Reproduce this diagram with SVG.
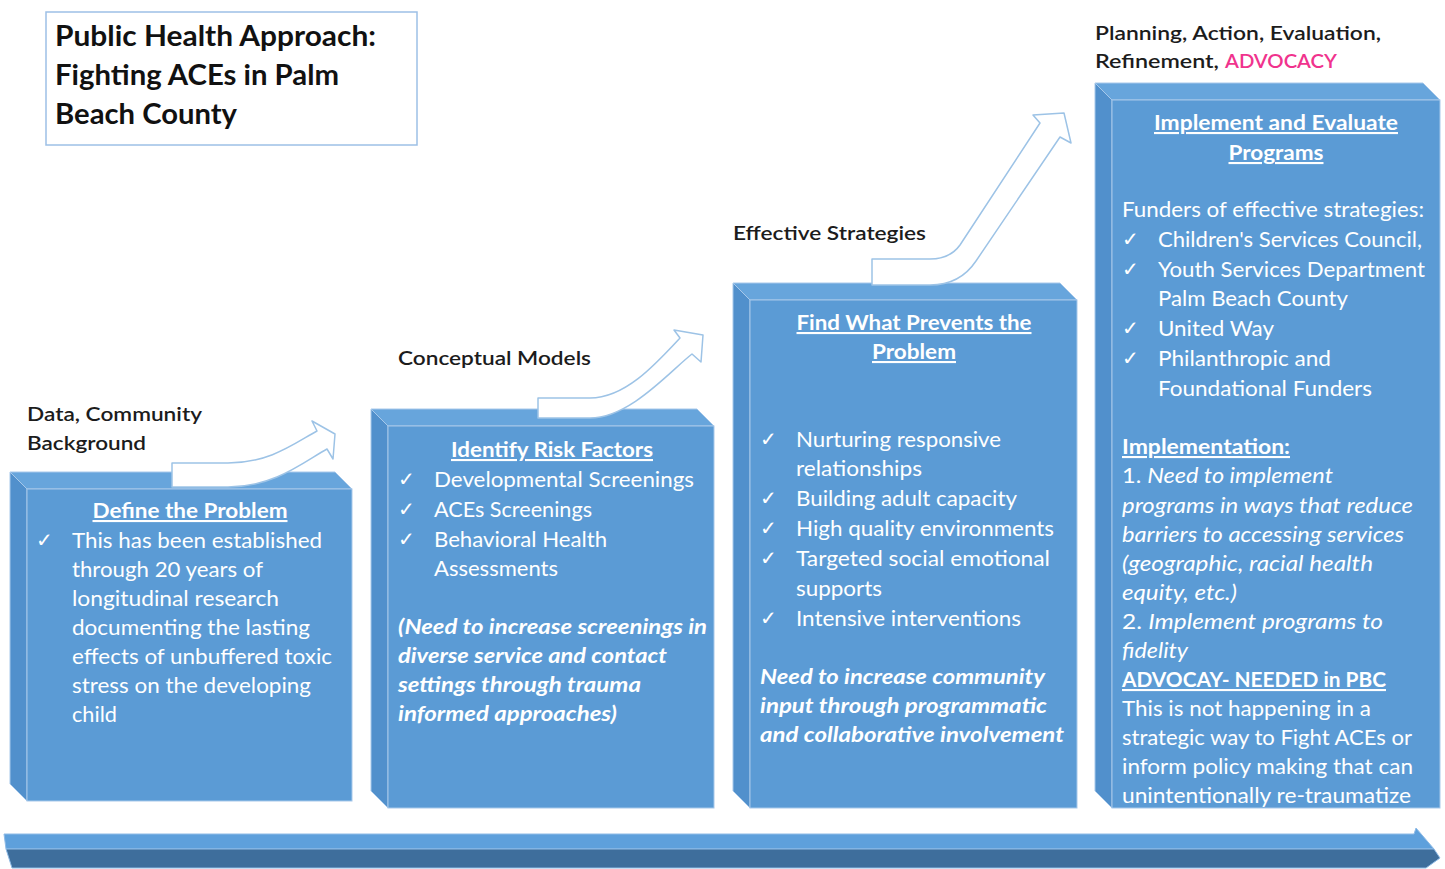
<svg xmlns="http://www.w3.org/2000/svg" width="1445" height="869" viewBox="0 0 1445 869">
<style>
.t{font-family:Lato,"Liberation Sans",sans-serif;font-size:21px;fill:#ffffff}
.hd{font-weight:bold;text-decoration:underline}
.it{font-style:italic}
.bi{font-style:italic;font-weight:bold}
.ck{font-family:"DejaVu Sans",sans-serif;font-size:20px;fill:#ffffff;font-weight:bold}
.lb{font-family:Lato,"Liberation Sans",sans-serif;font-size:20px;fill:#1c1c1c;font-weight:600}
.ti{font-family:Lato,"Liberation Sans",sans-serif;font-size:28px;fill:#111;font-weight:bold}
.front{fill:#5b9bd5;stroke:#a7c8ea;stroke-width:1}
.top{fill:#67a5dc;stroke:#a7c8ea;stroke-width:1}
.side{fill:#5190cc;stroke:#a7c8ea;stroke-width:1}
.arr{fill:#ffffff;stroke:#9dc3e6;stroke-width:1.5;stroke-linejoin:round}
</style>

<g id="title">
<rect x="46" y="12" width="371" height="133" fill="#ffffff" stroke="#9dc0e6" stroke-width="1.5"/>
<text class="ti" x="55" y="46" textLength="321" lengthAdjust="spacingAndGlyphs">Public Health Approach:</text>
<text class="ti" x="55" y="85" textLength="284" lengthAdjust="spacingAndGlyphs">Fighting ACEs in Palm</text>
<text class="ti" x="55" y="124" textLength="182" lengthAdjust="spacingAndGlyphs">Beach County</text>
</g>

<g id="bottom-arrow">
<polygon points="4,834 1414,834 1416,828 1434,849 6,849" fill="#5ea0dc" stroke="#8fbbe6" stroke-width="1"/>
<polygon points="6,849 1434,849 1440,858 1426,868 12,868" fill="#3e6e9c" stroke="#8fbbe6" stroke-width="1"/>
</g>

<g id="box1">
<polygon class="top" points="10,472 335,472 352,489 27,489"/>
<polygon class="side" points="10,472 27,489 27,801 10,784"/>
<rect class="front" x="27" y="489" width="325" height="312"/>
<text class="t hd" x="190" y="518" text-anchor="middle" textLength="195" lengthAdjust="spacingAndGlyphs">Define the Problem</text>
<text class="ck" x="36" y="547">✓</text>
<text class="t" x="72" y="548" textLength="250" lengthAdjust="spacingAndGlyphs">This has been established</text>
<text class="t" x="72" y="577" textLength="191" lengthAdjust="spacingAndGlyphs">through 20 years of</text>
<text class="t" x="72" y="606" textLength="207" lengthAdjust="spacingAndGlyphs">longitudinal research</text>
<text class="t" x="72" y="635" textLength="238" lengthAdjust="spacingAndGlyphs">documenting the lasting</text>
<text class="t" x="72" y="664" textLength="260" lengthAdjust="spacingAndGlyphs">effects of unbuffered toxic</text>
<text class="t" x="72" y="693" textLength="239" lengthAdjust="spacingAndGlyphs">stress on the developing</text>
<text class="t" x="72" y="722" textLength="45" lengthAdjust="spacingAndGlyphs">child</text>
</g>

<g id="box2">
<polygon class="top" points="371,409 697,409 714,426 388,426"/>
<polygon class="side" points="371,409 388,426 388,808 371,791"/>
<rect class="front" x="388" y="426" width="326" height="382"/>
<text class="t hd" x="552" y="457" text-anchor="middle" textLength="202" lengthAdjust="spacingAndGlyphs">Identify Risk Factors</text>
<text class="ck" x="398" y="486">✓</text>
<text class="t" x="434" y="487" textLength="260" lengthAdjust="spacingAndGlyphs">Developmental Screenings</text>
<text class="ck" x="398" y="516">✓</text>
<text class="t" x="434" y="517" textLength="158" lengthAdjust="spacingAndGlyphs">ACEs Screenings</text>
<text class="ck" x="398" y="546">✓</text>
<text class="t" x="434" y="547" textLength="173" lengthAdjust="spacingAndGlyphs">Behavioral Health</text>
<text class="t" x="434" y="576" textLength="124" lengthAdjust="spacingAndGlyphs">Assessments</text>
<text class="t bi" x="398" y="634" textLength="309" lengthAdjust="spacingAndGlyphs">(Need to increase screenings in</text>
<text class="t bi" x="398" y="663" textLength="269" lengthAdjust="spacingAndGlyphs">diverse service and contact</text>
<text class="t bi" x="398" y="692" textLength="243" lengthAdjust="spacingAndGlyphs">settings through trauma</text>
<text class="t bi" x="398" y="721" textLength="219" lengthAdjust="spacingAndGlyphs">informed approaches)</text>
</g>

<g id="box3">
<polygon class="top" points="733,283 1060,283 1077,300 750,300"/>
<polygon class="side" points="733,283 750,300 750,808 733,791"/>
<rect class="front" x="750" y="300" width="327" height="508"/>
<text class="t hd" x="914" y="330" text-anchor="middle" textLength="235" lengthAdjust="spacingAndGlyphs">Find What Prevents the</text>
<text class="t hd" x="914" y="359" text-anchor="middle" textLength="84" lengthAdjust="spacingAndGlyphs">Problem</text>
<text class="ck" x="760" y="446">✓</text>
<text class="t" x="796" y="447" textLength="205" lengthAdjust="spacingAndGlyphs">Nurturing responsive</text>
<text class="t" x="796" y="476" textLength="126" lengthAdjust="spacingAndGlyphs">relationships</text>
<text class="ck" x="760" y="505">✓</text>
<text class="t" x="796" y="506" textLength="221" lengthAdjust="spacingAndGlyphs">Building adult capacity</text>
<text class="ck" x="760" y="535">✓</text>
<text class="t" x="796" y="536" textLength="258" lengthAdjust="spacingAndGlyphs">High quality environments</text>
<text class="ck" x="760" y="565">✓</text>
<text class="t" x="796" y="566" textLength="254" lengthAdjust="spacingAndGlyphs">Targeted social emotional</text>
<text class="t" x="796" y="596" textLength="86" lengthAdjust="spacingAndGlyphs">supports</text>
<text class="ck" x="760" y="625">✓</text>
<text class="t" x="796" y="626" textLength="225" lengthAdjust="spacingAndGlyphs">Intensive interventions</text>
<text class="t bi" x="760" y="684" textLength="285" lengthAdjust="spacingAndGlyphs">Need to increase community</text>
<text class="t bi" x="760" y="713" textLength="287" lengthAdjust="spacingAndGlyphs">input through programmatic</text>
<text class="t bi" x="760" y="742" textLength="304" lengthAdjust="spacingAndGlyphs">and collaborative involvement</text>
</g>

<g id="box4">
<polygon class="top" points="1095,83 1423,83 1440,100 1112,100"/>
<polygon class="side" points="1095,83 1112,100 1112,808 1095,791"/>
<rect class="front" x="1112" y="100" width="328" height="708"/>
<text class="t hd" x="1276" y="130" text-anchor="middle" textLength="244" lengthAdjust="spacingAndGlyphs">Implement and Evaluate</text>
<text class="t hd" x="1276" y="160" text-anchor="middle" textLength="95" lengthAdjust="spacingAndGlyphs">Programs</text>
<text class="t" x="1122" y="217" textLength="302" lengthAdjust="spacingAndGlyphs">Funders of effective strategies:</text>
<text class="ck" x="1122" y="246">✓</text>
<text class="t" x="1158" y="247" textLength="264" lengthAdjust="spacingAndGlyphs">Children's Services Council,</text>
<text class="ck" x="1122" y="276">✓</text>
<text class="t" x="1158" y="277" textLength="267" lengthAdjust="spacingAndGlyphs">Youth Services Department</text>
<text class="t" x="1158" y="306" textLength="190" lengthAdjust="spacingAndGlyphs">Palm Beach County</text>
<text class="ck" x="1122" y="335">✓</text>
<text class="t" x="1158" y="336" textLength="116" lengthAdjust="spacingAndGlyphs">United Way</text>
<text class="ck" x="1122" y="365">✓</text>
<text class="t" x="1158" y="366" textLength="173" lengthAdjust="spacingAndGlyphs">Philanthropic and</text>
<text class="t" x="1158" y="396" textLength="214" lengthAdjust="spacingAndGlyphs">Foundational Funders</text>
<text class="t hd" x="1122" y="454" textLength="168" lengthAdjust="spacingAndGlyphs">Implementation:</text>
<text class="t" x="1122" y="483" textLength="211" lengthAdjust="spacingAndGlyphs">1. <tspan class="it">Need to implement</tspan></text>
<text class="t it" x="1122" y="513" textLength="291" lengthAdjust="spacingAndGlyphs">programs in ways that reduce</text>
<text class="t it" x="1122" y="542" textLength="282" lengthAdjust="spacingAndGlyphs">barriers to accessing services</text>
<text class="t it" x="1122" y="571" textLength="251" lengthAdjust="spacingAndGlyphs">(geographic, racial health</text>
<text class="t it" x="1122" y="600" textLength="115" lengthAdjust="spacingAndGlyphs">equity, etc.)</text>
<text class="t" x="1122" y="629" textLength="261" lengthAdjust="spacingAndGlyphs">2.  <tspan class="it">Implement programs to</tspan></text>
<text class="t it" x="1122" y="658" textLength="66" lengthAdjust="spacingAndGlyphs">fidelity</text>
<text class="t hd" x="1122" y="687" textLength="264" lengthAdjust="spacingAndGlyphs">ADVOCAY- NEEDED in PBC</text>
<text class="t" x="1122" y="716" textLength="249" lengthAdjust="spacingAndGlyphs">This is not happening in a</text>
<text class="t" x="1122" y="745" textLength="290" lengthAdjust="spacingAndGlyphs">strategic way to Fight ACEs or</text>
<text class="t" x="1122" y="774" textLength="291" lengthAdjust="spacingAndGlyphs">inform policy making that can</text>
<text class="t" x="1122" y="803" textLength="289" lengthAdjust="spacingAndGlyphs">unintentionally re-traumatize</text>
</g>

<g id="connectors">
<path class="arr" d="M172,463 L228,463 C270,463 295,443 317,431 L312,421 L335,434 L333,459 L327,449 C305,461 275,487 228,487 L172,487 Z"/>
<path class="arr" d="M538,398 L590,398 C625,398 655,365 680,338 L674,330 L703,335 L701,362 L692,354 C670,371 630,418 590,418 L538,418 Z"/>
<path class="arr" d="M872,259 L930,259 Q950,259 960,245 L1040,123 L1033,115 L1064,113 L1071,143 L1060,137 L976,261 Q960,285 930,285 L872,285 Z"/>
</g>

<g id="labels">
<text class="lb" x="27" y="421" textLength="175" lengthAdjust="spacingAndGlyphs">Data, Community</text>
<text class="lb" x="27" y="450" textLength="119" lengthAdjust="spacingAndGlyphs">Background</text>
<text class="lb" x="398" y="365" textLength="193" lengthAdjust="spacingAndGlyphs">Conceptual Models</text>
<text class="lb" x="733" y="240" textLength="193" lengthAdjust="spacingAndGlyphs">Effective Strategies</text>
<text class="lb" x="1095" y="40" textLength="286" lengthAdjust="spacingAndGlyphs">Planning, Action, Evaluation,</text>
<text class="lb" x="1095" y="68" textLength="124" lengthAdjust="spacingAndGlyphs">Refinement,</text>
<text class="lb" x="1225" y="68" style="fill:#f0338d" textLength="112" lengthAdjust="spacingAndGlyphs">ADVOCACY</text>
</g>
</svg>
